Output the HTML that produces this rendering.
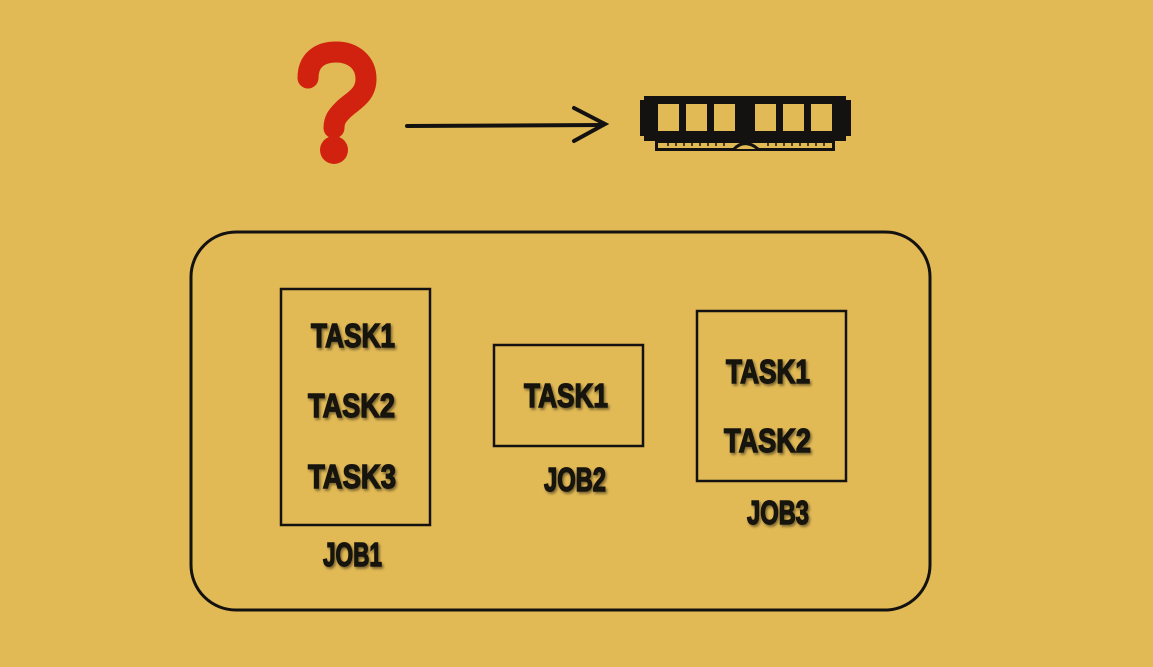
<!DOCTYPE html>
<html><head><meta charset="utf-8"><style>
html,body{margin:0;padding:0;background:#E1B955;}
svg{display:block}
.t{font-family:"Liberation Sans Narrow","Liberation Sans",sans-serif;font-weight:bold;font-size:33px;fill:#141210;stroke:#141210;stroke-width:1.4;}
</style></head><body>
<svg width="1153" height="667" viewBox="0 0 1153 667" xmlns="http://www.w3.org/2000/svg">
<defs><filter id="s" x="-10%" y="-10%" width="130%" height="130%"><feDropShadow dx="1.5" dy="2" stdDeviation="1.2" flood-color="#000" flood-opacity="0.45"/></filter></defs>
<rect width="1153" height="667" fill="#E1B955"/>
<!-- question mark -->
<path d="M308,78 C308,60 320,52 336,52 C354,52 366,63 366,79 C366,96 352,101 343,110 C337,116 334,120 334,128" fill="none" stroke="#D0220F" stroke-width="21" stroke-linecap="round"/>
<circle cx="334" cy="150" r="14" fill="#D0220F"/>
<!-- arrow -->
<g stroke="#141210" stroke-width="4" stroke-linecap="round" fill="none">
<line x1="407" y1="126" x2="603" y2="125"/>
<polyline points="574,108 605,124 574,141"/>
</g>
<!-- RAM -->
<g fill="#141210">
<path d="M644,96 H846 V100 H851 V136 H846 V141 H644 V136 H640 V100 H644 Z"/>
<rect x="655" y="141" width="180" height="2"/>
<rect x="655" y="148" width="180" height="3"/>
<rect x="655" y="141" width="3" height="10"/><rect x="832" y="141" width="3" height="10"/>
</g>
<g fill="#E1B955">
<rect x="658" y="104" width="21" height="27"/><rect x="686" y="104" width="21" height="27"/><rect x="714" y="104" width="21" height="27"/>
<rect x="755" y="104" width="21" height="27"/><rect x="783" y="104" width="21" height="27"/><rect x="811" y="104" width="21" height="27"/>
<rect x="658" y="143" width="174" height="5"/>
</g>
<g stroke="#141210" stroke-width="1.5">
<line x1="668" y1="141" x2="668" y2="146"/><line x1="676" y1="141" x2="676" y2="146"/><line x1="684" y1="141" x2="684" y2="146"/><line x1="692" y1="141" x2="692" y2="146"/><line x1="700" y1="141" x2="700" y2="146"/><line x1="708" y1="141" x2="708" y2="146"/><line x1="716" y1="141" x2="716" y2="146"/><line x1="724" y1="141" x2="724" y2="146"/>
<line x1="768" y1="141" x2="768" y2="146"/><line x1="776" y1="141" x2="776" y2="146"/><line x1="784" y1="141" x2="784" y2="146"/><line x1="792" y1="141" x2="792" y2="146"/><line x1="800" y1="141" x2="800" y2="146"/><line x1="808" y1="141" x2="808" y2="146"/><line x1="816" y1="141" x2="816" y2="146"/><line x1="824" y1="141" x2="824" y2="146"/>
</g>
<path d="M734,149 Q745,138 758,149" stroke="#141210" stroke-width="3" fill="#E1B955"/>
<!-- outer box -->
<rect x="191" y="232" width="739" height="378" rx="45" fill="none" stroke="#141210" stroke-width="3"/>
<!-- job boxes -->
<g fill="none" stroke="#141210" stroke-width="2.5">
<rect x="281" y="289" width="149" height="236"/>
<rect x="494" y="345" width="149" height="101"/>
<rect x="697" y="311" width="149" height="170"/>
</g>
<g class="t" filter="url(#s)">
<text x="311" y="347" textLength="84" lengthAdjust="spacingAndGlyphs">TASK1</text>
<text x="308" y="417" textLength="87" lengthAdjust="spacingAndGlyphs">TASK2</text>
<text x="308" y="488" textLength="88" lengthAdjust="spacingAndGlyphs">TASK3</text>
<text x="323" y="566" textLength="59" lengthAdjust="spacingAndGlyphs">JOB1</text>
<text x="524" y="407" textLength="84" lengthAdjust="spacingAndGlyphs">TASK1</text>
<text x="544" y="491" textLength="62" lengthAdjust="spacingAndGlyphs">JOB2</text>
<text x="726" y="383" textLength="84" lengthAdjust="spacingAndGlyphs">TASK1</text>
<text x="724" y="452" textLength="87" lengthAdjust="spacingAndGlyphs">TASK2</text>
<text x="747" y="524" textLength="62" lengthAdjust="spacingAndGlyphs">JOB3</text>
</g>
</svg>
</body></html>
